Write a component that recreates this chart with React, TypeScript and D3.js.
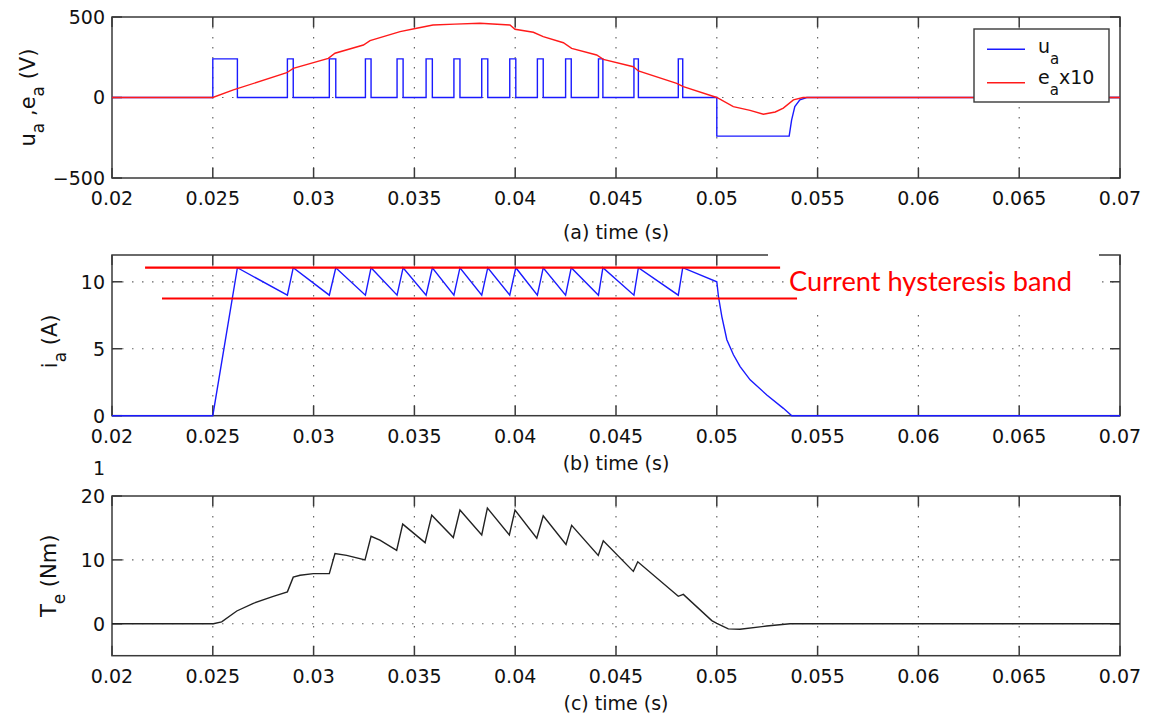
import React from "react";
import * as d3 from "d3";

// ---------- shared axis data ----------
const xTicks = [0.02, 0.025, 0.03, 0.035, 0.04, 0.045, 0.05, 0.055, 0.06, 0.065, 0.07];
const xTickLabels = ["0.02", "0.025", "0.03", "0.035", "0.04", "0.045", "0.05", "0.055", "0.06", "0.065", "0.07"];

// ---------- panel (a): u_a and e_a x10 ----------
const pulseOn = [0.025, 0.0287, 0.03078, 0.03257, 0.03414, 0.03558, 0.03696, 0.03834, 0.03973, 0.0411, 0.0425, 0.04413, 0.04589, 0.04809];
const pulseOff = [0.02622, 0.02899, 0.0311, 0.03285, 0.03444, 0.03589, 0.03726, 0.03864, 0.04003, 0.04139, 0.04278, 0.04435, 0.04611, 0.04831];
const uaHigh = 240;
const uaLow = -240;
const uaTailT = [0.05, 0.05, 0.05359, 0.05371, 0.05387, 0.05412, 0.05446, 0.07];
const uaTailV = [0, uaLow, uaLow, -140, -57, -15, 0, 0];
const eaT = [0.02, 0.025, 0.02602, 0.02867, 0.02899, 0.03073, 0.03106, 0.03247, 0.0328, 0.03429, 0.03511, 0.03592, 0.03701, 0.03825, 0.03974, 0.03999, 0.0409, 0.04139, 0.04239, 0.0428, 0.04404, 0.04437, 0.04586, 0.04611, 0.04801, 0.04834, 0.05, 0.05082, 0.05165, 0.05231, 0.0529, 0.0533, 0.0538, 0.05428, 0.07];
const eaV = [0, 0, 47, 154, 181, 243, 275, 326, 353, 409, 430, 450, 456, 461, 450, 424, 405, 378, 340, 305, 264, 237, 191, 165, 88, 67, 0, -57, -80, -104, -90, -66, -15, 0, 0];
const aYTicks = [-500, 0, 500];
const aYTickLabels = ["\u2212500", "0", "500"];

// ---------- panel (b): i_a ----------
const iaAtOn = [0, 9.0, 9.0, 9.0, 9.0, 9.0, 9.0, 9.0, 9.0, 9.0, 9.0, 9.0, 9.0, 9.0];
const iaAtOff = [11.05, 11.05, 11.05, 11.05, 11.05, 11.05, 11.05, 11.05, 11.05, 11.05, 11.05, 11.05, 11.05, 11.05];
const iaTailT = [0.05, 0.050082, 0.05025, 0.050498, 0.050825, 0.051157, 0.051653, 0.052481, 0.053304, 0.05372, 0.07];
const iaTailV = [10.0, 8.9, 7.4, 5.67, 4.55, 3.67, 2.68, 1.55, 0.55, 0.0, 0.0];
const bandLevels = [11.05, 8.75];
const bandStart = [0.02164, 0.02248];
const bandEnd = [0.05314, 0.05398];
const bYTicks = [0, 5, 10];
const bYTickLabels = ["0", "5", "10"];

// ---------- panel (c): T_e ----------
const teT = [0.02, 0.02503, 0.02544, 0.02619, 0.02701, 0.028, 0.0287, 0.02899, 0.02933, 0.02999, 0.03078, 0.03106, 0.03164, 0.03255, 0.03285, 0.03329, 0.03412, 0.03442, 0.03553, 0.03586, 0.03693, 0.03726, 0.03834, 0.03862, 0.03971, 0.03999, 0.04107, 0.04139, 0.04252, 0.0428, 0.04412, 0.04437, 0.04586, 0.04608, 0.04809, 0.04834, 0.04975, 0.05, 0.05057, 0.05115, 0.05247, 0.05363, 0.07];
const teV = [0, 0, 0.3, 2.0, 3.2, 4.3, 5.0, 7.3, 7.6, 7.85, 7.85, 11.0, 10.7, 10.0, 13.7, 13.1, 11.5, 15.6, 12.7, 17.0, 13.5, 17.8, 13.9, 18.1, 13.9, 17.8, 13.4, 16.9, 12.4, 15.4, 10.7, 13.0, 8.2, 9.7, 4.3, 4.6, 0.5, 0.06, -0.8, -0.87, -0.36, 0, 0];
const cYTicks = [0, 10, 20];
const cYTickLabels = ["0", "10", "20"];

const FONT = "DejaVu Sans";
const AXIS = "#3a3a3a";
const X0 = 112;
const X1 = 1120;
const TICK = 10;

const x = d3.scaleLinear().domain([0.02, 0.07]).range([X0, X1]);

type PanelProps = {
  top: number;
  bottom: number;
  domain: [number, number];
  yTicks: number[];
  yTickLabels: string[];
};

function Frame({ top, bottom, domain, yTicks, yTickLabels }: PanelProps) {
  const y = d3.scaleLinear().domain(domain).range([bottom, top]);
  return (
    <g>
      {/* grid */}
      {xTicks.slice(1, -1).map((t, i) => (
        <line key={"gx" + i} x1={x(t)} x2={x(t)} y1={top} y2={bottom} stroke="#666" strokeWidth={1.2} strokeDasharray="1.5 8.5" />
      ))}
      {yTicks.filter((v) => v !== domain[0] && v !== domain[1]).map((v, i) => (
        <line key={"gy" + i} x1={X0} x2={X1} y1={y(v)} y2={y(v)} stroke="#666" strokeWidth={1.2} strokeDasharray="1.5 8.5" />
      ))}
      {/* ticks */}
      {xTicks.map((t, i) => (
        <g key={"tx" + i}>
          <line x1={x(t)} x2={x(t)} y1={bottom} y2={bottom - TICK} stroke={AXIS} strokeWidth={1.5} />
          <line x1={x(t)} x2={x(t)} y1={top} y2={top + TICK} stroke={AXIS} strokeWidth={1.5} />
          <text x={x(t)} y={bottom + 27} textAnchor="middle" fontFamily={FONT} fontSize={19} fill="#111">
            {xTickLabels[i]}
          </text>
        </g>
      ))}
      {yTicks.map((v, i) => (
        <g key={"ty" + i}>
          <line x1={X0} x2={X0 + TICK} y1={y(v)} y2={y(v)} stroke={AXIS} strokeWidth={1.5} />
          <line x1={X1} x2={X1 - TICK} y1={y(v)} y2={y(v)} stroke={AXIS} strokeWidth={1.5} />
          <text x={105} y={y(v)} dy="0.36em" textAnchor="end" fontFamily={FONT} fontSize={19} fill="#111">
            {yTickLabels[i]}
          </text>
        </g>
      ))}
      <rect x={X0} y={top} width={X1 - X0} height={bottom - top} fill="none" stroke={AXIS} strokeWidth={1.5} />
    </g>
  );
}

export default function App() {
  // panel geometry
  const aTop = 17, aBot = 178;
  const bTop = 255, bBot = 415.7;
  const cTop = 496, cBot = 655.7;
  const ya = d3.scaleLinear().domain([-500, 500]).range([aBot, aTop]);
  const yb = d3.scaleLinear().domain([0, 12]).range([bBot, bTop]);
  const yc = d3.scaleLinear().domain([-5, 20]).range([cBot, cTop]);

  // u_a series from pulse data
  const uaPts: [number, number][] = [[0.02, 0]];
  pulseOn.forEach((on, i) => {
    uaPts.push([on, 0], [on, uaHigh], [pulseOff[i], uaHigh], [pulseOff[i], 0]);
  });
  uaTailT.forEach((t, i) => uaPts.push([t, uaTailV[i]]));
  const eaPts: [number, number][] = eaT.map((t, i) => [t, eaV[i]]);

  // i_a series
  const iaPts: [number, number][] = [[0.02, 0]];
  pulseOn.forEach((on, i) => {
    iaPts.push([on, iaAtOn[i]], [pulseOff[i], iaAtOff[i]]);
  });
  iaTailT.forEach((t, i) => iaPts.push([t, iaTailV[i]]));

  const tePts: [number, number][] = teT.map((t, i) => [t, teV[i]]);

  const lineA = d3.line<[number, number]>().x((d) => x(d[0])).y((d) => ya(d[1]));
  const lineB = d3.line<[number, number]>().x((d) => x(d[0])).y((d) => yb(d[1]));
  const lineC = d3.line<[number, number]>().x((d) => x(d[0])).y((d) => yc(d[1]));

  return (
    <svg width={1151} height={719} style={{ position: "absolute", left: 0, top: 0, background: "#fff" }}>
      <rect x={0} y={0} width={1151} height={719} fill="#fff" />

      {/* ---------- panel a ---------- */}
      <Frame top={aTop} bottom={aBot} domain={[-500, 500]} yTicks={aYTicks} yTickLabels={aYTickLabels} />
      <path d={lineA(uaPts) || ""} fill="none" stroke="#1a1aff" strokeWidth={1.4} />
      <path d={lineA(eaPts) || ""} fill="none" stroke="#ff1a1a" strokeWidth={1.4} />
      <text transform={`translate(35,${(aTop + aBot) / 2}) rotate(-90)`} textAnchor="middle" fontFamily={FONT} fontSize={21} fill="#111">
        <tspan>u</tspan>
        <tspan fontSize={17} dy={9}>a</tspan>
        <tspan dy={-9}> ,e</tspan>
        <tspan fontSize={17} dy={9}>a</tspan>
        <tspan dy={-9}> (V)</tspan>
      </text>
      <text x={616} y={239} textAnchor="middle" fontFamily={FONT} fontSize={19} fill="#111">(a) time (s)</text>

      {/* legend */}
      <rect x={974} y={29} width={135} height={73} fill="#fff" stroke={AXIS} strokeWidth={1.4} />
      <line x1={987} x2={1025} y1={49.3} y2={49.3} stroke="#1a1aff" strokeWidth={1.4} />
      <line x1={987} x2={1025} y1={82.7} y2={82.7} stroke="#ff1a1a" strokeWidth={1.4} />
      <text x={1038} y={53} fontFamily={FONT} fontSize={19} fill="#111">
        <tspan>u</tspan>
        <tspan fontSize={15} dy={11}>a</tspan>
      </text>
      <text x={1038} y={84} fontFamily={FONT} fontSize={19} fill="#111">
        <tspan>e</tspan>
        <tspan fontSize={15} dy={11}>a</tspan>
        <tspan dy={-11}>x10</tspan>
      </text>

      {/* ---------- panel b ---------- */}
      <Frame top={bTop} bottom={bBot} domain={[0, 12]} yTicks={bYTicks} yTickLabels={bYTickLabels} />
      <path d={lineB(iaPts) || ""} fill="none" stroke="#1a1aff" strokeWidth={1.4} />
      {/* annotation box */}
      <rect x={768} y={246} width={331} height={16} fill="#fff" />
      <rect x={785} y={262} width={314} height={46} fill="#fff" />
      {bandLevels.map((lv, i) => (
        <line key={"band" + i} x1={x(bandStart[i])} x2={x(bandEnd[i])} y1={yb(lv)} y2={yb(lv)} stroke="#ff0000" strokeWidth={2.2} />
      ))}
      <text x={789} y={291} fontFamily="Lato" fontSize={26} fill="#ff0000" textLength={283} lengthAdjust="spacingAndGlyphs">
        Current hysteresis band
      </text>
      <text transform={`translate(57,${(bTop + bBot) / 2 + 6}) rotate(-90)`} textAnchor="middle" fontFamily={FONT} fontSize={21} fill="#111">
        <tspan>i</tspan>
        <tspan fontSize={17} dy={9}>a</tspan>
        <tspan dy={-9}> (A)</tspan>
      </text>
      <text x={616} y={470} textAnchor="middle" fontFamily={FONT} fontSize={19} fill="#111">(b) time (s)</text>

      {/* ---------- panel c ---------- */}
      <text x={105} y={475} textAnchor="end" fontFamily={FONT} fontSize={19} fill="#111">1</text>
      <Frame top={cTop} bottom={cBot} domain={[-5, 20]} yTicks={cYTicks} yTickLabels={cYTickLabels} />
      <path d={lineC(tePts) || ""} fill="none" stroke="#222" strokeWidth={1.4} />
      <text transform={`translate(56,${(cTop + cBot) / 2}) rotate(-90)`} textAnchor="middle" fontFamily={FONT} fontSize={21} fill="#111">
        <tspan>T</tspan>
        <tspan fontSize={17} dy={9}>e</tspan>
        <tspan dy={-9}> (Nm)</tspan>
      </text>
      <text x={616} y={710} textAnchor="middle" fontFamily={FONT} fontSize={19} fill="#111">(c) time (s)</text>
    </svg>
  );
}
